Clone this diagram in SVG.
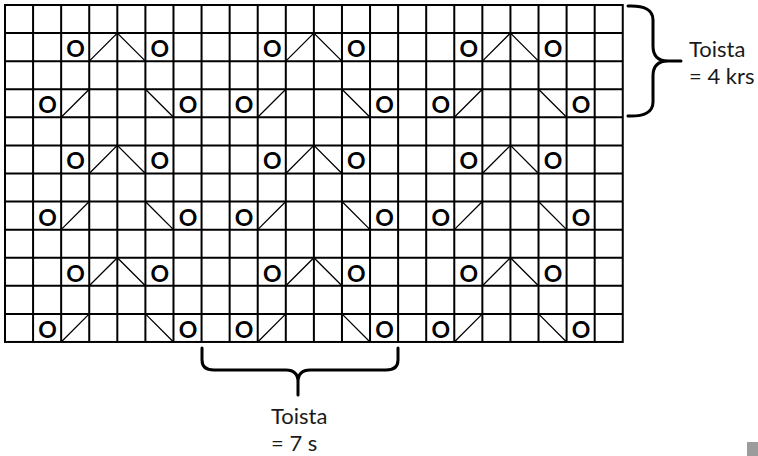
<svg xmlns="http://www.w3.org/2000/svg" xmlns:xlink="http://www.w3.org/1999/xlink" width="758" height="456" viewBox="0 0 758 456">
<style>
.grid{stroke:#000;stroke-width:2;fill:none}
.diag{stroke:#000;stroke-width:1.3;fill:none}
.yo{font-family:Lato,"Liberation Sans",sans-serif;font-weight:bold;font-size:23px;text-anchor:middle;fill:#000}
.lbl{font-family:Lato,"Liberation Sans",sans-serif;font-size:22px;fill:#1a1a1a}
.brace{stroke:#000;stroke-width:3;fill:none;stroke-linecap:round;stroke-linejoin:round}
</style>
<defs>
<g id="motifA">
<text class="yo" x="14.5" y="24">O</text>
<path class="diag" d="M28.08,28.08 L56.16,0 L84.24,28.08"/>
<text class="yo" x="98.7" y="24">O</text>
</g>
<g id="motifB">
<text class="yo" x="14.5" y="24">O</text>
<path class="diag" d="M28.08,28.08 L56.16,0 M112.32,0 L140.4,28.08"/>
<text class="yo" x="154.9" y="24">O</text>
</g>
</defs>
<g id="chart">
<rect class="grid" x="5" y="5" width="617.76" height="336.96"/>
<path class="grid" d="M33.08,5V341.96M61.16,5V341.96M89.24,5V341.96M117.32,5V341.96M145.4,5V341.96M173.48,5V341.96M201.56,5V341.96M229.64,5V341.96M257.72,5V341.96M285.8,5V341.96M313.88,5V341.96M341.96,5V341.96M370.04,5V341.96M398.12,5V341.96M426.2,5V341.96M454.28,5V341.96M482.36,5V341.96M510.44,5V341.96M538.52,5V341.96M566.6,5V341.96M594.68,5V341.96M5,33.08H622.76M5,61.16H622.76M5,89.24H622.76M5,117.32H622.76M5,145.4H622.76M5,173.48H622.76M5,201.56H622.76M5,229.64H622.76M5,257.72H622.76M5,285.8H622.76M5,313.88H622.76"/>
</g>
<g id="row1"><use xlink:href="#motifA" x="61.16" y="33.08"/><use xlink:href="#motifA" x="257.72" y="33.08"/><use xlink:href="#motifA" x="454.28" y="33.08"/></g>
<g id="row3"><use xlink:href="#motifB" x="33.08" y="89.24"/><use xlink:href="#motifB" x="229.64" y="89.24"/><use xlink:href="#motifB" x="426.2" y="89.24"/></g>
<g id="row5"><use xlink:href="#motifA" x="61.16" y="145.4"/><use xlink:href="#motifA" x="257.72" y="145.4"/><use xlink:href="#motifA" x="454.28" y="145.4"/></g>
<g id="row7"><use xlink:href="#motifB" x="33.08" y="201.56"/><use xlink:href="#motifB" x="229.64" y="201.56"/><use xlink:href="#motifB" x="426.2" y="201.56"/></g>
<g id="row9"><use xlink:href="#motifA" x="61.16" y="257.72"/><use xlink:href="#motifA" x="257.72" y="257.72"/><use xlink:href="#motifA" x="454.28" y="257.72"/></g>
<g id="row11"><use xlink:href="#motifB" x="33.08" y="313.88"/><use xlink:href="#motifB" x="229.64" y="313.88"/><use xlink:href="#motifB" x="426.2" y="313.88"/></g>
<g id="connectors">
<path id="brace-rows" class="brace" d="M628,6 Q653,5 653,20 L653,46 Q653,61 668,61 L681,61 M668,61 Q653,61 653,76 L653,102 Q653,117 628,116"/>
<path id="brace-stitches" class="brace" d="M202,348 L202,360 Q202,370 214,370 L286,370 Q298,370 298,382 L298,395 M298,382 Q298,370 310,370 L386,370 Q398,370 398,360 L398,348"/>
</g>
<g id="label-rows">
<text class="lbl" x="689" y="57">Toista</text>
<text class="lbl" x="689" y="84">= 4 krs</text>
</g>
<g id="label-stitches">
<text class="lbl" x="271" y="424">Toista</text>
<text class="lbl" x="271" y="451">= 7 s</text>
</g>
<rect x="747" y="442" width="11" height="14" fill="#9c9c9c"/>
</svg>
